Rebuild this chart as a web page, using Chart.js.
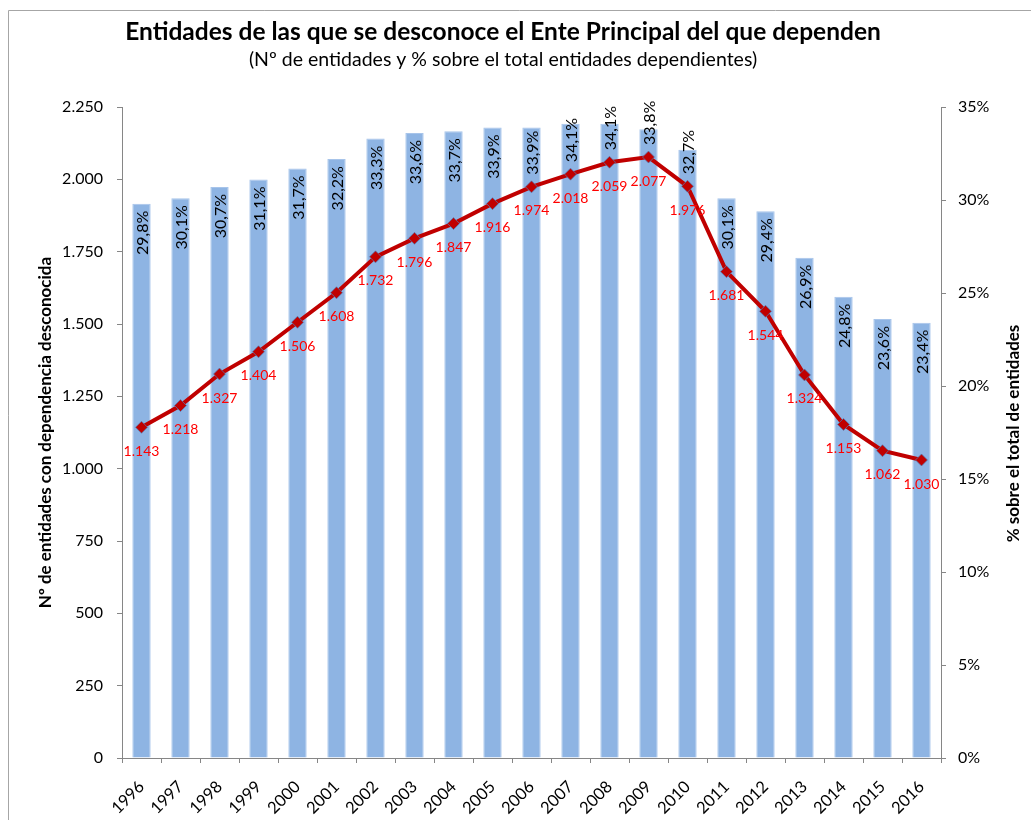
<!DOCTYPE html>
<html>
<head>
<meta charset="utf-8">
<script src="https://cdn.jsdelivr.net/npm/chart.js@4/dist/chart.umd.min.js"></script>
<style>
  html, body { margin: 0; padding: 0; background: #fff; }
  #grafico { display: block; }
</style>
</head>
<body>
<canvas id="grafico" width="1031" height="820"></canvas>
<script>
// Datos
const anios = ['1996', '1997', '1998', '1999', '2000', '2001', '2002', '2003', '2004', '2005', '2006',
               '2007', '2008', '2009', '2010', '2011', '2012', '2013', '2014', '2015', '2016'];
const entidades = [1143, 1218, 1327, 1404, 1506, 1608, 1732, 1796, 1847, 1916, 1974,
                   2018, 2059, 2077, 1976, 1681, 1544, 1324, 1153, 1062, 1030];
const porcentaje = [29.8, 30.1, 30.7, 31.1, 31.7, 32.2, 33.3, 33.6, 33.7, 33.9, 33.9,
                    34.1, 34.1, 33.8, 32.7, 30.1, 29.4, 26.9, 24.8, 23.6, 23.4];
const ejeIzq = [0, 250, 500, 750, 1000, 1250, 1500, 1750, 2000, 2250];
const ejeDer = [0, 5, 10, 15, 20, 25, 30, 35];

const titulo = 'Entidades de las que se desconoce el Ente Principal del que dependen';
const subtitulo = '(Nº de entidades y % sobre el total entidades dependientes)';
const tituloIzq = 'Nº de entidades con dependencia desconocida';
const tituloDer = '% sobre el total de entidades';

const FUENTE = 'Lato, Carlito, Calibri, sans-serif';
const GRIS = '#868686';

// 2.250 -> formato con punto de miles
function miles(v) {
    return String(v).replace(/\B(?=(\d{3})+(?!\d))/g, '.');
}
function pct(v) {
    return v.toFixed(1).replace('.', ',') + '%';
}

Chart.defaults.font.family = FUENTE;
Chart.defaults.color = '#000';

// Fondo, borde, títulos y etiquetas de datos
const rotulos = {
    id: 'rotulos',
    beforeDraw(chart) {
        const ctx = chart.ctx;
        ctx.save();
        ctx.fillStyle = '#fff';
        ctx.fillRect(0, 0, chart.width, chart.height);
        ctx.strokeStyle = '#A6A6A6';
        ctx.lineWidth = 1;
        ctx.beginPath();
        ctx.moveTo(8.5, chart.height);
        ctx.lineTo(8.5, 10.5);
        ctx.lineTo(chart.width, 10.5);
        ctx.stroke();
        ctx.restore();
    },
    afterDatasetsDraw(chart) {
        const ctx = chart.ctx;
        const linea = chart.getDatasetMeta(0).data;
        const barras = chart.getDatasetMeta(1).data;
        ctx.save();
        // porcentajes en vertical dentro de las barras
        ctx.font = '16px ' + FUENTE;
        ctx.fillStyle = '#000';
        ctx.textAlign = 'left';
        ctx.textBaseline = 'middle';
        barras.forEach((b, i) => {
            const txt = pct(porcentaje[i]);
            const w = ctx.measureText(txt).width;
            const fin = Math.min(b.y + 7 + w, linea[i].y - 12);
            ctx.save();
            ctx.translate(b.x + 1, fin);
            ctx.rotate(-Math.PI / 2);
            ctx.fillText(txt, 0, 0);
            ctx.restore();
        });
        // número de entidades bajo cada punto
        ctx.font = '14px ' + FUENTE;
        ctx.fillStyle = '#FF0000';
        ctx.textAlign = 'center';
        linea.forEach((p, i) => {
            ctx.fillText(miles(entidades[i]), p.x, p.y + 24);
        });
        ctx.restore();
    },
    afterDraw(chart) {
        const ctx = chart.ctx;
        ctx.save();
        ctx.fillStyle = '#000';
        ctx.textAlign = 'center';
        ctx.textBaseline = 'middle';
        ctx.font = 'bold 24.5px ' + FUENTE;
        ctx.fillText(titulo, 503, 32);
        ctx.font = '19.5px ' + FUENTE;
        ctx.fillText(subtitulo, 503, 60);
        // título del eje derecho, leído de abajo arriba
        const a = chart.chartArea;
        ctx.font = 'bold 17px ' + FUENTE;
        ctx.translate(1014, (a.top + a.bottom) / 2 + 1);
        ctx.rotate(-Math.PI / 2);
        ctx.fillText(tituloDer, 0, 0);
        ctx.restore();
    }
};

new Chart(document.getElementById('grafico'), {
    data: {
        labels: anios,
        datasets: [{
            type: 'line',
            label: 'Entidades',
            data: entidades,
            yAxisID: 'y',
            borderColor: '#C00000',
            borderWidth: 4,
            pointStyle: 'rectRot',
            pointRadius: 6,
            pointBackgroundColor: '#C00000',
            pointBorderColor: 'rgba(79, 129, 189, 0.7)',
            pointBorderWidth: 1,
            tension: 0,
            order: 0
        }, {
            type: 'bar',
            label: '% sobre el total',
            data: porcentaje,
            yAxisID: 'y1',
            backgroundColor: '#8EB4E3',
            borderColor: '#A7C4EA',
            borderWidth: 1,
            categoryPercentage: 1,
            barPercentage: 0.47,
            order: 1
        }]
    },
    options: {
        responsive: false,
        animation: false,
        layout: { padding: { left: 30, right: 5, top: 107, bottom: 0 } },
        plugins: {
            legend: { display: false },
            title: { display: false },
            tooltip: { enabled: false }
        },
        scales: {
            x: {
                offset: true,
                grid: { offset: true, drawOnChartArea: false, color: GRIS, tickLength: 5 },
                border: { color: GRIS },
                ticks: { minRotation: 45, maxRotation: 45, padding: 14, font: { size: 16.5 } },
                afterFit: (s) => { s.height = 62; }
            },
            y: {
                position: 'left',
                min: 0,
                max: ejeIzq[ejeIzq.length - 1],
                afterBuildTicks: (s) => { s.ticks = ejeIzq.map(v => ({ value: v })); },
                grid: { drawOnChartArea: false, color: GRIS, tickLength: 5 },
                border: { color: GRIS },
                ticks: { padding: 14, font: { size: 16 }, callback: (v) => miles(v) },
                title: { display: true, text: tituloIzq, font: { size: 17, weight: 'bold' }, padding: { top: 5, bottom: 0 } },
                afterFit: (s) => { s.width = 92; }
            },
            y1: {
                position: 'right',
                min: 0,
                max: ejeDer[ejeDer.length - 1],
                afterBuildTicks: (s) => { s.ticks = ejeDer.map(v => ({ value: v })); },
                grid: { drawOnChartArea: false, color: GRIS, tickLength: 5 },
                border: { color: GRIS },
                ticks: { padding: 12, font: { size: 16 }, callback: (v) => v + '%' },
                afterFit: (s) => { s.width = 85; }
            }
        }
    },
    plugins: [rotulos]
});
</script>
</body>
</html>
